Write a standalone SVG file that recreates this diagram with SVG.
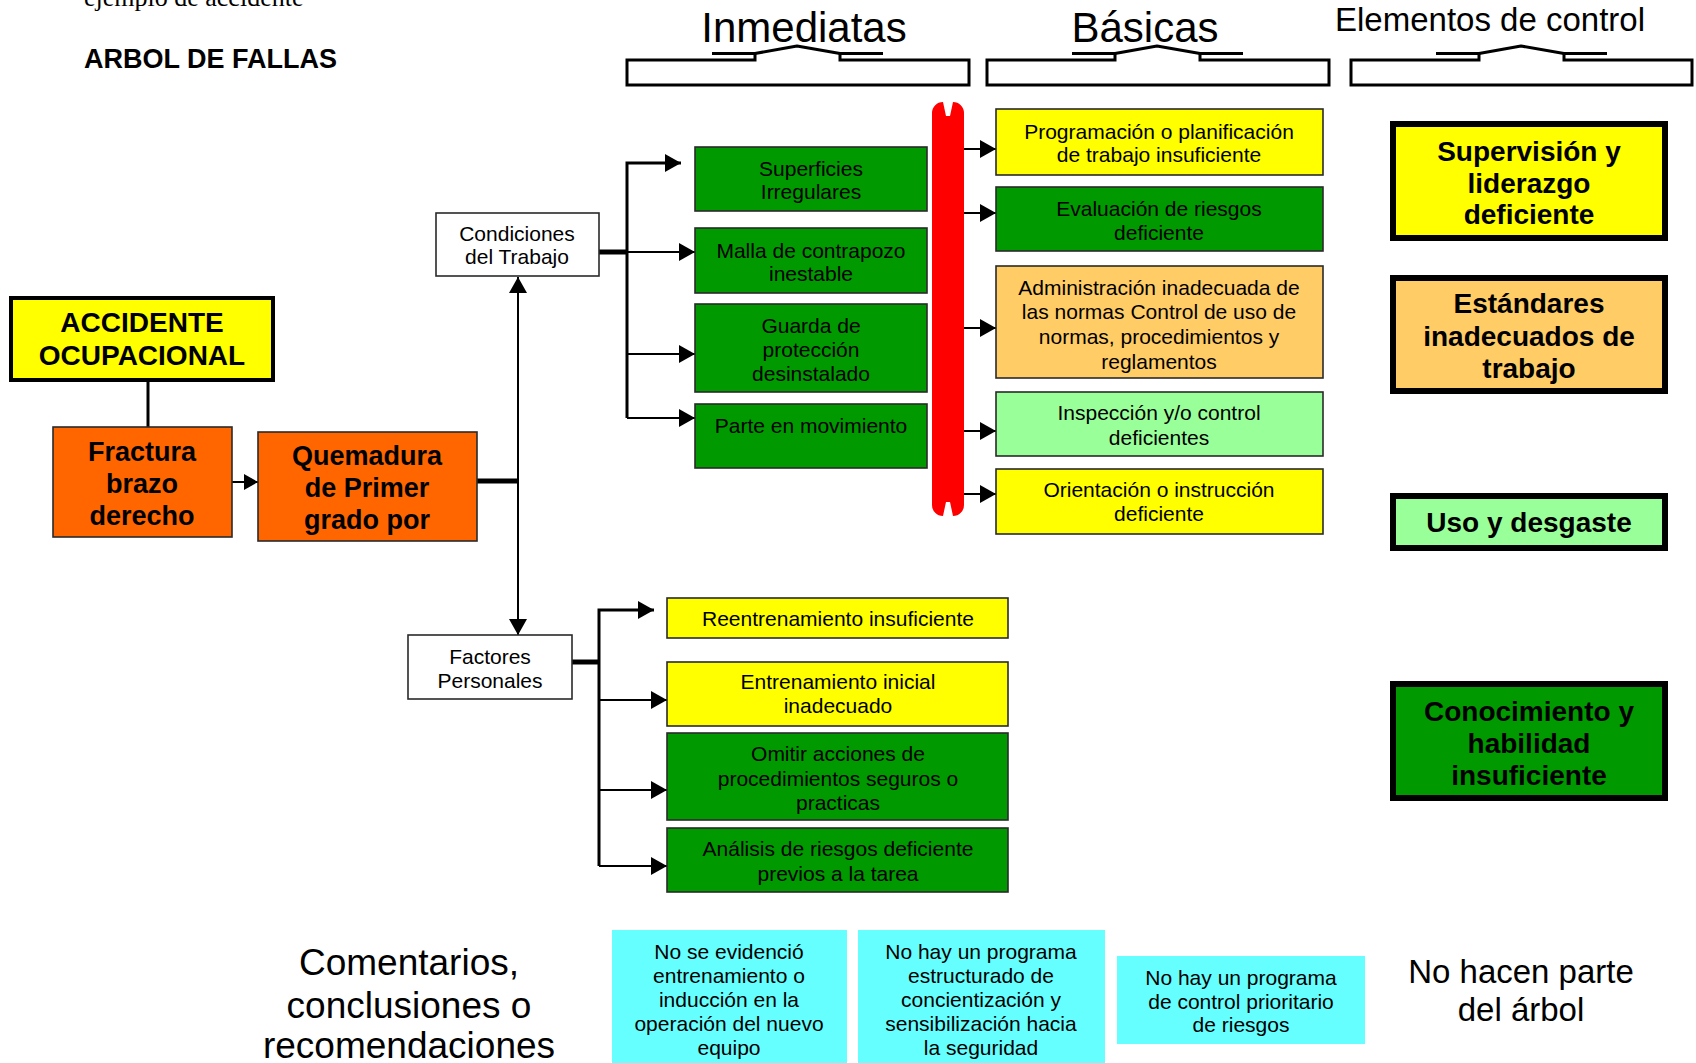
<svg xmlns="http://www.w3.org/2000/svg" width="1696" height="1063" viewBox="0 0 1696 1063">
<style>
  text { font-family: "Liberation Sans", Arial, sans-serif; fill: #000; text-anchor: middle; }
  .serif { font-family: "Liberation Serif", "Times New Roman", serif; text-anchor: start; }
  .title { font-weight: bold; font-size: 27px; text-anchor: start; }
  .hdr { font-size: 42px; }
  .hdr2 { font-size: 33px; }
  .t21 { font-size: 21px; }
  .big { font-size: 37px; }
  .mid { font-size: 33px; }
  .b28 { font-weight: bold; font-size: 28px; }
  .b27 { font-weight: bold; font-size: 27px; }
  .box { stroke: #2a2a2a; stroke-width: 1.6; }
  .heavy { stroke: #000; stroke-width: 6; }
  .acc { stroke: #000; stroke-width: 4; }
  .yel { fill: #FFFF00; }
  .grn { fill: #009900; }
  .org { fill: #FF6600; }
  .lor { fill: #FFCC66; }
  .lgr { fill: #99FF99; }
  .cyn { fill: #66FFFF; }
  .wht { fill: #FFFFFF; }
  .brk { fill: #fff; stroke: #000; stroke-width: 3; }
  .hat { fill: none; stroke: #000; stroke-width: 3; stroke-linejoin: round; }
  .ln { fill: none; stroke: #000; stroke-width: 2; }
  .bus { fill: none; stroke: #000; stroke-width: 3; }
  .thick { fill: none; stroke: #000; stroke-width: 5; }
</style>
<defs>
  <marker id="arr" markerUnits="userSpaceOnUse" markerWidth="16" markerHeight="18" refX="16" refY="9" orient="auto">
    <path d="M0,0 L16,9 L0,18 Z" fill="#000"/>
  </marker>
  <marker id="arrs" markerUnits="userSpaceOnUse" markerWidth="14" markerHeight="16" refX="14" refY="8" orient="auto">
    <path d="M0,0 L14,8 L0,16 Z" fill="#000"/>
  </marker>
</defs>
<rect width="1696" height="1063" fill="#fff"/>

<text class="serif" x="84" y="6" font-size="26">ejemplo de accidente</text>
<text class="title" x="84" y="68">ARBOL DE FALLAS</text>

<g id="headers">
  <text class="hdr" x="804" y="42">Inmediatas</text>
  <path class="brk" d="M755,54 V60 H627 V85 H969 V60 H840 V54"/>
  <path class="hat" d="M712,53.5 H755 L797,46 L840,53.5 H883"/>
  <text class="hdr" x="1145" y="42">Básicas</text>
  <path class="brk" d="M1115,54 V60 H987 V85 H1329 V60 H1200 V54"/>
  <path class="hat" d="M1072,53.5 H1115 L1157,46 L1200,53.5 H1243"/>
  <text class="hdr2" x="1490" y="31">Elementos de control</text>
  <path class="brk" d="M1479,54 V60 H1351 V85 H1692 V60 H1564 V54"/>
  <path class="hat" d="M1436,53.5 H1479 L1521,46 L1564,53.5 H1607"/>
</g>

<g id="connectors">
  <line class="bus" x1="148" y1="380" x2="148" y2="427"/>
  <line class="ln" x1="232" y1="482" x2="258" y2="482" marker-end="url(#arrs)"/>
  <line class="thick" x1="477" y1="481" x2="519" y2="481"/>
  <line class="ln" x1="518" y1="481" x2="518" y2="277" marker-end="url(#arr)"/>
  <line class="ln" x1="518" y1="481" x2="518" y2="635" marker-end="url(#arr)"/>
  <line class="thick" x1="599" y1="252" x2="628" y2="252"/>
  <path class="bus" d="M681,163 H627 V418"/>
  <line class="ln" x1="627" y1="163" x2="681" y2="163" marker-end="url(#arr)"/>
  <line class="ln" x1="627" y1="252" x2="695" y2="252" marker-end="url(#arr)"/>
  <line class="ln" x1="627" y1="354" x2="695" y2="354" marker-end="url(#arr)"/>
  <path class="ln" d="M627,418 H695" marker-end="url(#arr)"/>
  <line class="ln" x1="964" y1="149" x2="996" y2="149" marker-end="url(#arr)"/>
  <line class="ln" x1="964" y1="213" x2="996" y2="213" marker-end="url(#arr)"/>
  <line class="ln" x1="964" y1="328" x2="996" y2="328" marker-end="url(#arr)"/>
  <line class="ln" x1="964" y1="431" x2="996" y2="431" marker-end="url(#arr)"/>
  <line class="ln" x1="964" y1="494" x2="996" y2="494" marker-end="url(#arr)"/>
  <line class="thick" x1="572" y1="662" x2="600" y2="662"/>
  <path class="bus" d="M654,610 H599 V866"/>
  <line class="ln" x1="599" y1="610" x2="654" y2="610" marker-end="url(#arr)"/>
  <line class="ln" x1="599" y1="700" x2="667" y2="700" marker-end="url(#arr)"/>
  <line class="ln" x1="599" y1="790" x2="667" y2="790" marker-end="url(#arr)"/>
  <path class="ln" d="M599,866 H667" marker-end="url(#arr)"/>
</g>

<g id="barrier">
  <path fill="#FF0000" d="M932,113 A11,11 0 0 1 943,102 L946,116 L950,116 L953,102 A11,11 0 0 1 964,113 L964,505 A11,11 0 0 1 953,516 L950,502 L946,502 L943,516 A11,11 0 0 1 932,505 Z"/>
</g>

<g id="accidente">
  <rect class="acc yel" x="11" y="298" width="262" height="82"/>
  <text class="b28" x="142" y="332">ACCIDENTE</text>
  <text class="b28" x="142" y="365">OCUPACIONAL</text>
</g>
<g id="fractura">
  <rect class="box org" x="53" y="427" width="179" height="110"/>
  <text class="b27" x="142" y="461">Fractura</text>
  <text class="b27" x="142" y="493">brazo</text>
  <text class="b27" x="142" y="525">derecho</text>
</g>
<g id="quemadura">
  <rect class="box org" x="258" y="432" width="219" height="109"/>
  <text class="b27" x="367" y="465">Quemadura</text>
  <text class="b27" x="367" y="497">de Primer</text>
  <text class="b27" x="367" y="529">grado por</text>
</g>
<g id="condiciones">
  <rect class="box wht" x="436" y="213" width="163" height="63"/>
  <text class="t21" x="517" y="241">Condiciones</text>
  <text class="t21" x="517" y="264">del Trabajo</text>
</g>
<g id="factores">
  <rect class="box wht" x="408" y="635" width="164" height="64"/>
  <text class="t21" x="490" y="664">Factores</text>
  <text class="t21" x="490" y="688">Personales</text>
</g>

<g id="superficies">
  <rect class="box grn" x="695" y="147" width="232" height="64"/>
  <text class="t21" x="811" y="176">Superficies</text>
  <text class="t21" x="811" y="199">Irregulares</text>
</g>
<g id="malla">
  <rect class="box grn" x="695" y="228" width="232" height="65"/>
  <text class="t21" x="811" y="258">Malla de contrapozo</text>
  <text class="t21" x="811" y="281">inestable</text>
</g>
<g id="guarda">
  <rect class="box grn" x="695" y="304" width="232" height="88"/>
  <text class="t21" x="811" y="333">Guarda de</text>
  <text class="t21" x="811" y="357">protección</text>
  <text class="t21" x="811" y="381">desinstalado</text>
</g>
<g id="parte">
  <rect class="box grn" x="695" y="404" width="232" height="64"/>
  <text class="t21" x="811" y="433">Parte en movimiento</text>
</g>

<g id="programacion">
  <rect class="box yel" x="996" y="109" width="327" height="66"/>
  <text class="t21" x="1159" y="139">Programación o planificación</text>
  <text class="t21" x="1159" y="162">de trabajo insuficiente</text>
</g>
<g id="evaluacion">
  <rect class="box grn" x="996" y="187" width="327" height="64"/>
  <text class="t21" x="1159" y="216">Evaluación de riesgos</text>
  <text class="t21" x="1159" y="240">deficiente</text>
</g>
<g id="administracion">
  <rect class="box lor" x="996" y="266" width="327" height="112"/>
  <text class="t21" x="1159" y="295">Administración inadecuada de</text>
  <text class="t21" x="1159" y="319">las normas Control de uso de</text>
  <text class="t21" x="1159" y="344">normas, procedimientos y</text>
  <text class="t21" x="1159" y="369">reglamentos</text>
</g>
<g id="inspeccion">
  <rect class="box lgr" x="996" y="392" width="327" height="64"/>
  <text class="t21" x="1159" y="420">Inspección y/o control</text>
  <text class="t21" x="1159" y="445">deficientes</text>
</g>
<g id="orientacion">
  <rect class="box yel" x="996" y="469" width="327" height="65"/>
  <text class="t21" x="1159" y="497">Orientación o instrucción</text>
  <text class="t21" x="1159" y="521">deficiente</text>
</g>

<g id="supervision">
  <rect class="heavy yel" x="1393" y="124" width="272" height="114"/>
  <text class="b28" x="1529" y="161">Supervisión y</text>
  <text class="b28" x="1529" y="193">liderazgo</text>
  <text class="b28" x="1529" y="224">deficiente</text>
</g>
<g id="estandares">
  <rect class="heavy lor" x="1393" y="278" width="272" height="113"/>
  <text class="b28" x="1529" y="313">Estándares</text>
  <text class="b28" x="1529" y="346">inadecuados de</text>
  <text class="b28" x="1529" y="378">trabajo</text>
</g>
<g id="uso">
  <rect class="heavy lgr" x="1393" y="496" width="272" height="52"/>
  <text class="b28" x="1529" y="532">Uso y desgaste</text>
</g>
<g id="conocimiento">
  <rect class="heavy grn" x="1393" y="684" width="272" height="114"/>
  <text class="b28" x="1529" y="721">Conocimiento y</text>
  <text class="b28" x="1529" y="753">habilidad</text>
  <text class="b28" x="1529" y="785">insuficiente</text>
</g>

<g id="reentrenamiento">
  <rect class="box yel" x="667" y="598" width="341" height="40"/>
  <text class="t21" x="838" y="626">Reentrenamiento insuficiente</text>
</g>
<g id="entrenamiento">
  <rect class="box yel" x="667" y="662" width="341" height="64"/>
  <text class="t21" x="838" y="689">Entrenamiento inicial</text>
  <text class="t21" x="838" y="713">inadecuado</text>
</g>
<g id="omitir">
  <rect class="box grn" x="667" y="733" width="341" height="87"/>
  <text class="t21" x="838" y="761">Omitir acciones de</text>
  <text class="t21" x="838" y="786">procedimientos seguros o</text>
  <text class="t21" x="838" y="810">practicas</text>
</g>
<g id="analisis">
  <rect class="box grn" x="667" y="828" width="341" height="64"/>
  <text class="t21" x="838" y="856">Análisis de riesgos deficiente</text>
  <text class="t21" x="838" y="881">previos a la tarea</text>
</g>

<g id="comentarios">
  <text class="big" x="409" y="975">Comentarios,</text>
  <text class="big" x="409" y="1018">conclusiones o</text>
  <text class="big" x="409" y="1058">recomendaciones</text>
</g>
<g id="nota1">
  <rect class="cyn" x="612" y="930" width="235" height="133"/>
  <text class="t21" x="729" y="959">No se evidenció</text>
  <text class="t21" x="729" y="983">entrenamiento o</text>
  <text class="t21" x="729" y="1007">inducción en la</text>
  <text class="t21" x="729" y="1031">operación del nuevo</text>
  <text class="t21" x="729" y="1055">equipo</text>
</g>
<g id="nota2">
  <rect class="cyn" x="858" y="930" width="247" height="133"/>
  <text class="t21" x="981" y="959">No hay un programa</text>
  <text class="t21" x="981" y="983">estructurado de</text>
  <text class="t21" x="981" y="1007">concientización y</text>
  <text class="t21" x="981" y="1031">sensibilización hacia</text>
  <text class="t21" x="981" y="1055">la seguridad</text>
</g>
<g id="nota3">
  <rect class="cyn" x="1117" y="956" width="248" height="88"/>
  <text class="t21" x="1241" y="985">No hay un programa</text>
  <text class="t21" x="1241" y="1009">de control prioritario</text>
  <text class="t21" x="1241" y="1032">de riesgos</text>
</g>
<g id="nohacen">
  <text class="mid" x="1521" y="983">No hacen parte</text>
  <text class="mid" x="1521" y="1021">del árbol</text>
</g>
</svg>
